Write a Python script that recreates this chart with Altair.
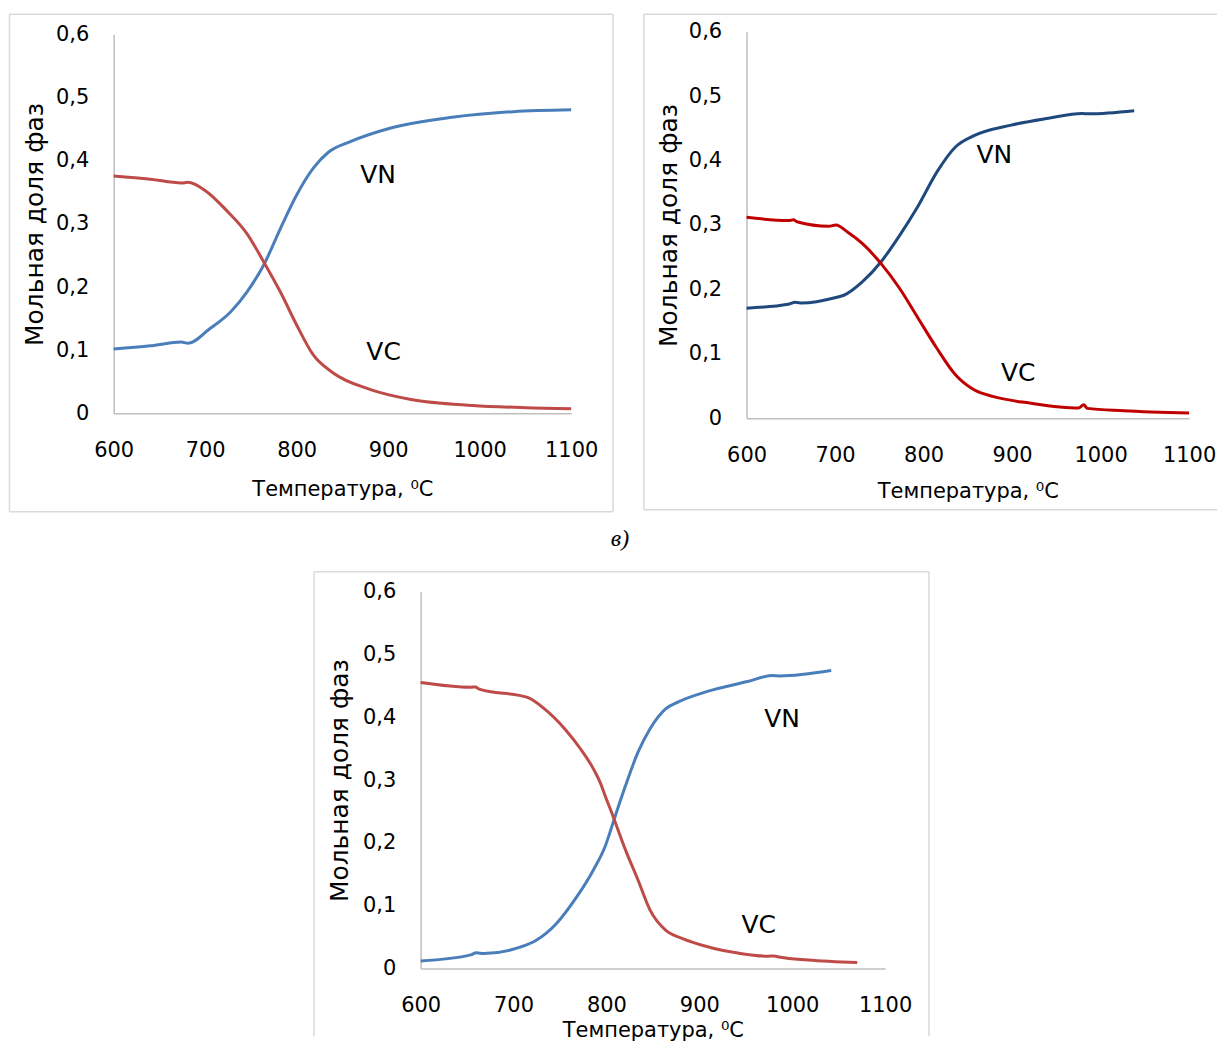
import altair as alt
import pandas as pd

# ---------------- data ----------------
# Panel (top-left)
T1_VN = [600, 640, 674, 681, 705, 728, 746, 764, 782, 800, 818, 835, 858, 903, 970, 1037, 1100]
VN1 = [0.102, 0.107, 0.113, 0.111, 0.134, 0.161, 0.193, 0.235, 0.292, 0.346, 0.388, 0.414, 0.430, 0.452, 0.469, 0.478, 0.481]
T1_VC = [600, 640, 674, 681, 701, 723, 746, 764, 782, 800, 818, 840, 880, 925, 992, 1050, 1100]
VC1 = [0.376, 0.371, 0.365, 0.366, 0.352, 0.322, 0.284, 0.240, 0.193, 0.140, 0.093, 0.064, 0.038, 0.022, 0.0126, 0.009, 0.0074]

# Panel (top-right)
T2_VN = [600, 647, 655, 663, 701, 710, 731, 752, 773, 794, 815, 836, 857, 899, 941, 979, 987, 1038]
VN2 = [0.171, 0.177, 0.180, 0.179, 0.1876, 0.191, 0.212, 0.243, 0.284, 0.330, 0.382, 0.421, 0.4386, 0.455, 0.4655, 0.473, 0.4725, 0.4773]
T2_VC = [600, 647, 653, 657, 693, 701, 714, 731, 752, 773, 794, 815, 836, 857, 878, 920, 975, 981, 985, 1026, 1100]
VC2 = [0.312, 0.307, 0.308, 0.305, 0.298, 0.300, 0.289, 0.271, 0.240, 0.2015, 0.155, 0.1087, 0.0676, 0.0443, 0.034, 0.0237, 0.016, 0.021, 0.0155, 0.0119, 0.0082]

# Panel (bottom, "в)")
T3_VN = [600, 654, 660, 668, 707, 724, 746, 768, 786, 798.5, 809.5, 820.5, 834, 847, 864, 877.5, 908, 952, 978, 987, 1042]
VN3 = [0.012, 0.0217, 0.025, 0.024, 0.034, 0.0446, 0.0714, 0.114, 0.157, 0.194, 0.243, 0.291, 0.3445, 0.382, 0.414, 0.4248, 0.441, 0.457, 0.4665, 0.466, 0.4746]
T3_VC = [600, 654, 659, 663, 715, 733, 755, 772, 786, 794, 798, 807, 820.5, 834, 847, 864, 882, 908, 943, 974, 980, 987, 1017, 1070]
VC3 = [0.4555, 0.448, 0.4485, 0.445, 0.4318, 0.414, 0.382, 0.35, 0.318, 0.2937, 0.2776, 0.243, 0.189, 0.141, 0.093, 0.0607, 0.0477, 0.035, 0.0243, 0.0196, 0.0200, 0.018, 0.0137, 0.0095]

# curve labels
LAB_TXT = ["VN", "VC"]
LAB1_T, LAB1_V = [889, 895], [0.378, 0.097]
LAB2_T, LAB2_V = [880, 907], [0.409, 0.070]
LAB3_T, LAB3_V = [989, 964], [0.398, 0.069]

XTICKS = [600, 700, 800, 900, 1000, 1100]
YTICKS = [0, 0.1, 0.2, 0.3, 0.4, 0.5, 0.6]
X_TITLE = "Температура, ⁰C"
Y_TITLE = "Мольная доля фаз"
SUB_LABEL = "в)"

FONT = "DejaVu Sans"
AX_COL = "#BFBFBF"
FRAME_COL = "#D9D9D9"


def one():
    return alt.Chart(pd.DataFrame({"k": [0]}))


def rule(x1, x2, y1, y2):
    return one().mark_rule(color=FRAME_COL, strokeWidth=1.5).encode(
        x=alt.value(x1), x2=alt.value(x2), y=alt.value(y1), y2=alt.value(y2))


def panel(tvn, vn, tvc, vc, lab_t, lab_v, c_vn, c_vc, w, h, xtitle_y, ytitle_x, extras, yrange=None):
    yscale = alt.Scale(domain=[0, 0.6], nice=False)
    ymid = h / 2
    if yrange is not None:
        yscale = alt.Scale(domain=[0, 0.6], nice=False, range=yrange)
        ymid = (yrange[0] + yrange[1]) / 2
    X = alt.X("T:Q", scale=alt.Scale(domain=[600, 1100], nice=False, zero=False),
              axis=alt.Axis(values=XTICKS, format="d", title=X_TITLE, titleY=xtitle_y,
                            titleBaseline="middle", titleFontSize=21, labelPadding=26,
                            labelFlush=False, labelBaseline="top"))
    Y = alt.Y("v:Q", scale=yscale,
              axis=alt.Axis(values=YTICKS, title=Y_TITLE, titleX=ytitle_x, titleY=ymid,
                            titleBaseline="middle", titleAlign="center", titleFontSize=25,
                            labelPadding=25,
                            labelExpr="replace(format(datum.value, '.1~f'), '.', ',')"))
    df_vn = pd.DataFrame({"T": tvn, "v": vn})
    df_vc = pd.DataFrame({"T": tvc, "v": vc})
    df_lab = pd.DataFrame({"T": lab_t, "v": lab_v, "lab": LAB_TXT})
    l_vn = alt.Chart(df_vn).mark_line(color=c_vn, strokeWidth=3, interpolate="monotone").encode(x=X, y=Y)
    l_vc = alt.Chart(df_vc).mark_line(color=c_vc, strokeWidth=3, interpolate="monotone").encode(x=X, y=Y)
    txt = alt.Chart(df_lab).mark_text(font=FONT, fontSize=25, color="#000", align="center",
                                      baseline="middle").encode(x=X, y=Y, text="lab:N")
    return alt.layer(*extras, l_vn, l_vc, txt).properties(width=w, height=h)


# frames (decoration around each panel)
fr1 = [rule(-104.5, 501, -20.5, -20.5), rule(-104.5, 501, 478.75, 478.75),
       rule(-104.5, -104.5, -20.5, 478.75), rule(501, 501, -20.5, 478.75)]
fr2 = [rule(-103, 472, -20.5, -20.5), rule(-103, 472, 476.75, 476.75),
       rule(-103, -103, -20.5, 476.75)]
sub = one().mark_text(
    font="Liberation Serif", fontStyle="italic", fontSize=24, color="#000",
    align="center", baseline="alphabetic", text=SUB_LABEL
).encode(x=alt.value(200), y=alt.value(-46))
fr3 = [rule(-107, 510, -20, -20), rule(-107, -107, -20, 446), rule(510, 510, -20, 446), sub]

p1 = panel(T1_VN, VN1, T1_VC, VC1, LAB1_T, LAB1_V, "#4A7EBB", "#BE4B48", 459, 380, 76, -79, fr1)
p2 = panel(T2_VN, VN2, T2_VC, VC2, LAB2_T, LAB2_V, "#1F497D", "#C00000", 444, 385, 73, -78, fr2,
           yrange=[385, -3])
p3 = panel(T3_VN, VN3, T3_VC, VC3, LAB3_T, LAB3_V, "#4A7EBB", "#BE4B48", 466, 378, 62, -81, fr3)

# empty spacer that pushes the bottom panel to the right
spacer = one().mark_rule(opacity=0).encode(x=alt.value(0), y=alt.value(0)).properties(width=200, height=1)

row1 = alt.concat(p1, p2, columns=2, align="none", spacing=29).resolve_scale(x="independent", y="independent")
row2 = alt.concat(spacer, p3, columns=2, align="none", spacing=0).resolve_scale(x="independent", y="independent")
chart = alt.concat(row1, row2, columns=1, align="none", spacing=14).resolve_scale(
    x="independent", y="independent"
).properties(
    padding={"left": 0, "top": 3, "right": 0, "bottom": 0}
).configure_view(stroke=None).configure_axis(
    grid=False, ticks=False, domainColor=AX_COL, domainWidth=1.5,
    labelFont=FONT, labelFontSize=21, labelColor="#000",
    titleFont=FONT, titleFontWeight="normal", titleColor="#000"
)

chart.save("out.html", embed_options={"renderer": "svg", "actions": False})
